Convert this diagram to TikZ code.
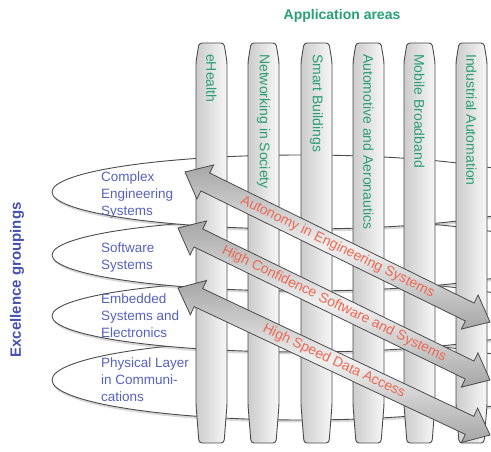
\documentclass[tikz,border=0pt]{standalone}
\usepackage{fontspec}
\setmainfont{Liberation Sans}
\usetikzlibrary{shapes.arrows,shadows}
\definecolor{appgreen}{RGB}{40,160,115}
\definecolor{exblue}{RGB}{70,80,175}
\definecolor{lblue}{RGB}{85,98,190}
\definecolor{arrred}{RGB}{238,104,82}
\definecolor{edgegray}{RGB}{75,75,75}
\tikzset{
  grp/.style={draw=edgegray, line width=0.9pt, fill=white,
    drop shadow={opacity=0.3, shadow xshift=1pt, shadow yshift=-2.5pt}},
  grptext/.style={text=lblue, font=\fontsize{13.5}{17}\selectfont, align=left, anchor=west, inner sep=0pt},
  pillar/.style={draw=edgegray, line width=0.9pt, left color=gray!40, right color=gray!6, rounded corners=3pt},
  pillartext/.style={text=appgreen, font=\fontsize{14}{16}\selectfont, rotate=-90, anchor=west, inner sep=0pt},
  band/.style={double arrow, draw=edgegray, line width=0.8pt, double arrow head extend=9pt,
    double arrow tip angle=80, minimum width=38pt, inner xsep=10pt, inner ysep=3pt,
    top color=gray!70, bottom color=gray!70, middle color=gray!12,
    text=arrred, font=\fontsize{14}{16}\selectfont},
  headline/.style={font=\bfseries\fontsize{14}{16}\selectfont, inner sep=0pt}
}
\begin{document}
\begin{tikzpicture}[x=1pt,y=-1pt]
\useasboundingbox (0,0) rectangle (491,452);
\clip (0,0) rectangle (491,452);
\fill[white] (0,0) rectangle (491,452);

% titles
\node[headline, text=appgreen] (apptitle) at (342,16) {Application areas};
\node[headline, text=exblue, rotate=90, font=\bfseries\fontsize{15}{17}\selectfont] (extitle) at (17,280) {Excellence groupings};

% excellence groupings (ellipses), back to front
\path[grp] (302,380) ellipse [x radius=250pt, y radius=40pt];
\path[grp] (302,316) ellipse [x radius=250pt, y radius=36pt];
\path[grp] (302,255) ellipse [x radius=250pt, y radius=36pt];
\path[grp] (302,192) ellipse [x radius=250pt, y radius=37pt];
\node[grptext] (g1) at (101,195) {Complex\\Engineering\\Systems};
\node[grptext] (g2) at (101,258) {Software\\Systems};
\node[grptext] (g3) at (101,316) {Embedded\\Systems and\\Electronics};
\node[grptext] (g4) at (101,380) {Physical Layer\\in Communi-\\cations};

% application areas (pillars)
\foreach \x/\n/\t in {196/p1/eHealth, 248/p2/Networking in Society, 301/p3/Smart Buildings,
    353/p4/Automotive and Aeronautics, 404/p5/Mobile Broadband, 456/p6/Industrial Automation}{
  \path[pillar] (\x+3,43) -- (\x+28,43) -- (\x+31,62) -- (\x+31,405) -- (\x+28,443)
     -- (\x+3,443) -- (\x,405) -- (\x,62) -- cycle;
  \node[pillartext] (\n) at (\x+15.5,54) {\t};
}

% cross-cutting arrows
\node[band, rotate=-26.19, minimum height=340pt] (arrA) at (337.5,247) {Autonomy in Engineering Systems};
\node[band, rotate=-25.97, minimum height=347pt] (arrB) at (334,304) {High Confidence Software and Systems};
\node[band, rotate=-25.23, minimum height=345pt] (arrC) at (334,361.5) {High Speed Data Access};
\end{tikzpicture}
\end{document}
